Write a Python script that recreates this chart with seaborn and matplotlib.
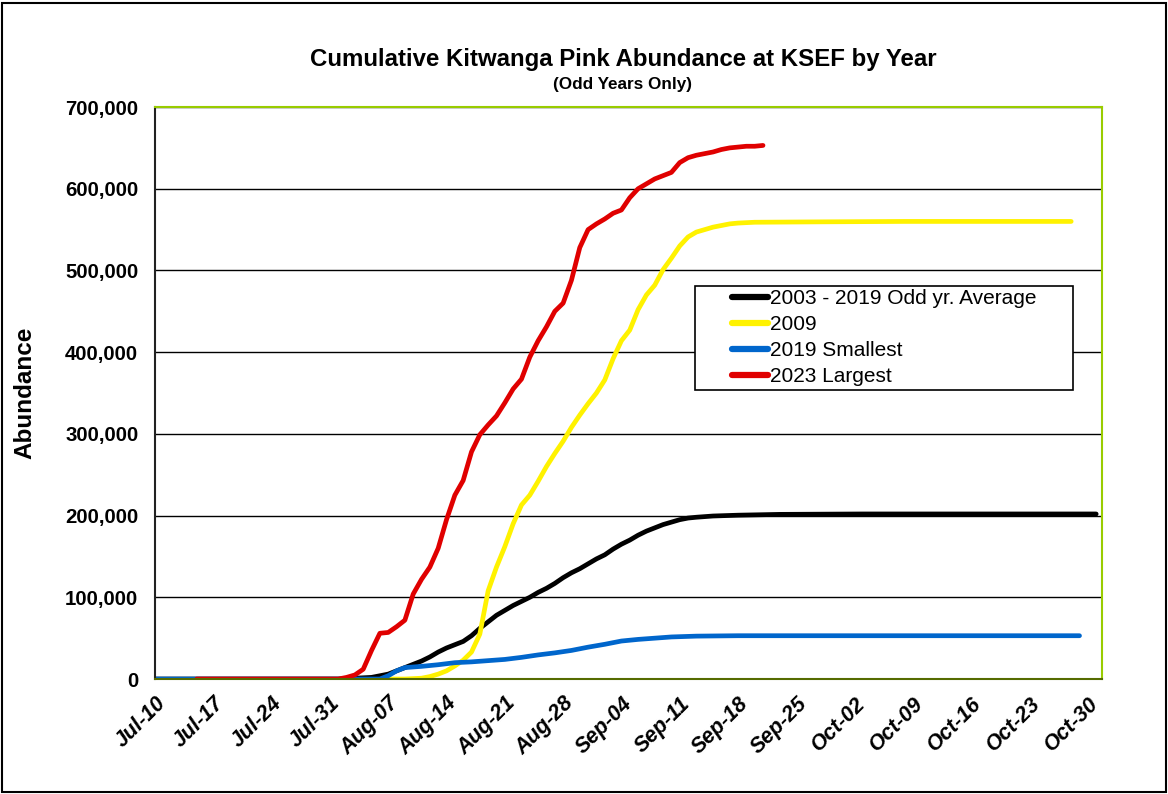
import pandas as pd
import numpy as np
import matplotlib.pyplot as plt
import matplotlib.dates as mdates
import matplotlib.ticker as mticker
from matplotlib.patches import Rectangle
from matplotlib.legend_handler import HandlerLine2D
import seaborn as sns

# the chart has month-day only; a dummy year is used to put them on a date axis
YEAR = 2023

# abundance values are in thousands of fish
avg_dates = ['Jul-10', 'Aug-01', 'Aug-03', 'Aug-05', 'Aug-07', 'Aug-09', 'Aug-11', 'Aug-12',
             'Aug-13', 'Aug-14', 'Aug-15', 'Aug-16', 'Aug-17', 'Aug-18', 'Aug-19', 'Aug-20',
             'Aug-21', 'Aug-22', 'Aug-23', 'Aug-24', 'Aug-25', 'Aug-26', 'Aug-27', 'Aug-28',
             'Aug-29', 'Aug-30', 'Aug-31', 'Sep-01', 'Sep-02', 'Sep-03', 'Sep-04', 'Sep-05',
             'Sep-06', 'Sep-07', 'Sep-08', 'Sep-09', 'Sep-10', 'Sep-11', 'Sep-12', 'Sep-13',
             'Sep-15', 'Sep-18', 'Sep-23', 'Oct-03', 'Oct-31']
avg_vals = [0, 0, 1, 2, 6, 14, 22, 27,
            33, 38, 42, 46, 53, 62, 70, 78,
            84, 90, 95, 100, 106, 111, 117, 124,
            130, 135, 141, 147, 152, 159, 165, 170,
            176, 181, 185, 189, 192, 195, 197, 198,
            199.5, 200.5, 201.5, 202, 202]

y2009_dates = ['Aug-07', 'Aug-09', 'Aug-11', 'Aug-12', 'Aug-13', 'Aug-14', 'Aug-15', 'Aug-16',
               'Aug-17', 'Aug-18', 'Aug-19', 'Aug-20', 'Aug-21', 'Aug-22', 'Aug-23', 'Aug-24',
               'Aug-25', 'Aug-26', 'Aug-27', 'Aug-28', 'Aug-29', 'Aug-30', 'Aug-31', 'Sep-01',
               'Sep-02', 'Sep-03', 'Sep-04', 'Sep-05', 'Sep-06', 'Sep-07', 'Sep-08', 'Sep-09',
               'Sep-10', 'Sep-11', 'Sep-12', 'Sep-13', 'Sep-14', 'Sep-15', 'Sep-16', 'Sep-17',
               'Sep-18', 'Sep-20', 'Sep-28', 'Oct-08', 'Oct-28']
y2009_vals = [0, 0, 1, 3, 6, 10, 16, 23,
              33, 55, 108, 137, 162, 190, 213, 225,
              242, 260, 276, 291, 308, 323, 337, 350,
              366, 392, 414, 427, 452, 470, 482, 501,
              515, 530, 541, 547, 550, 553, 555, 557,
              558, 559, 559.5, 560, 560]

y2019_dates = ['Jul-10', 'Aug-06', 'Aug-07', 'Aug-08', 'Aug-09', 'Aug-11', 'Aug-13', 'Aug-15',
               'Aug-17', 'Aug-19', 'Aug-21', 'Aug-23', 'Aug-25', 'Aug-27', 'Aug-29', 'Aug-31',
               'Sep-02', 'Sep-04', 'Sep-06', 'Sep-08', 'Sep-10', 'Sep-13', 'Sep-18', 'Oct-29']
y2019_vals = [0, 0, 4, 10, 14, 15.5, 17.5, 20,
              21, 22.5, 24, 26.5, 29.5, 32, 35, 39,
              42.5, 46.5, 48.5, 50, 51.5, 52.5, 53, 53]

y2023_dates = ['Jul-15', 'Aug-01', 'Aug-02', 'Aug-03', 'Aug-04', 'Aug-05', 'Aug-06', 'Aug-07',
               'Aug-08', 'Aug-09', 'Aug-10', 'Aug-11', 'Aug-12', 'Aug-13', 'Aug-14', 'Aug-15',
               'Aug-16', 'Aug-17', 'Aug-18', 'Aug-19', 'Aug-20', 'Aug-21', 'Aug-22', 'Aug-23',
               'Aug-24', 'Aug-25', 'Aug-26', 'Aug-27', 'Aug-28', 'Aug-29', 'Aug-30', 'Aug-31',
               'Sep-01', 'Sep-02', 'Sep-03', 'Sep-04', 'Sep-05', 'Sep-06', 'Sep-07', 'Sep-08',
               'Sep-09', 'Sep-10', 'Sep-11', 'Sep-12', 'Sep-13', 'Sep-14', 'Sep-15', 'Sep-16',
               'Sep-17', 'Sep-18', 'Sep-19', 'Sep-20', 'Sep-21']
y2023_vals = [0, 0, 2, 5, 12, 35, 56, 57,
              64, 72, 104, 122, 137, 160, 195, 225,
              243, 278, 299, 311, 322, 338, 355, 367,
              394, 414, 431, 450, 460, 488, 528, 550,
              557, 563, 570, 574, 589, 600, 606, 612,
              616, 620, 632, 638, 641, 643, 645, 648,
              650, 651, 652, 652, 653]

series_names = ['2003 - 2019 Odd yr. Average', '2009', '2019 Smallest', '2023 Largest']
series_colors = ['#000000', '#FFF200', '#0066CC', '#E00000']


def to_date(labels):
    return pd.to_datetime([f'{YEAR}-{s}' for s in labels], format='%Y-%b-%d')


frames = []
for name, dates, vals in zip(series_names,
                             [avg_dates, y2009_dates, y2019_dates, y2023_dates],
                             [avg_vals, y2009_vals, y2019_vals, y2023_vals]):
    frames.append(pd.DataFrame({'series': name, 'date': to_date(dates),
                                'abundance': np.array(vals) * 1000}))
df = pd.concat(frames, ignore_index=True)

sns.set_style('white')
plt.rcParams['font.family'] = ['Liberation Sans', 'DejaVu Sans']
plt.rcParams.update({'text.color': 'black', 'axes.labelcolor': 'black',
                     'xtick.color': 'black', 'ytick.color': 'black'})

fig = plt.figure(figsize=(11.68, 7.94), dpi=100)
ax = fig.add_axes([0.1327, 0.1448, 0.9435 - 0.1327, 0.8652 - 0.1448])

ax.yaxis.grid(True, color='black', linewidth=1.0)
ax.set_axisbelow(True)

sns.lineplot(data=df, x='date', y='abundance', hue='series', hue_order=series_names,
             palette=series_colors, linewidth=3.4, estimator=None, sort=False, ax=ax,
             solid_capstyle='round', solid_joinstyle='round')

start = pd.Timestamp(f'{YEAR}-07-10')
ax.set_xlim(start, start + pd.Timedelta(days=113.7))
ax.set_ylim(0, 700000)

ticks = pd.date_range(start, periods=17, freq='7D')
ax.set_xticks(mdates.date2num(ticks))
ax.xaxis.set_major_formatter(mdates.DateFormatter('%b-%d'))
ax.yaxis.set_major_locator(mticker.MultipleLocator(100000))
ax.yaxis.set_major_formatter(mticker.FuncFormatter(lambda v, p: f'{v:,.0f}'))

ax.tick_params(axis='x', direction='inout', length=12, width=1, color='#444444', pad=4)
ax.tick_params(axis='y', direction='out', length=6, width=1, color='black', pad=6)
for lbl in ax.get_xticklabels():
    lbl.set_fontsize(15.5)
    lbl.set_fontweight('bold')
    lbl.set_fontstyle('italic')
    lbl.set_rotation(45)
    lbl.set_ha('right')
    lbl.set_va('top')
    lbl.set_rotation_mode('anchor')
for lbl in ax.get_yticklabels():
    lbl.set_fontsize(14.7)
    lbl.set_fontweight('bold')

ax.set_xlabel('')
ax.set_ylabel('Abundance', fontsize=17.5, fontweight='bold', labelpad=21)

for side in ['top', 'right']:
    ax.spines[side].set_color('#99CC00')
    ax.spines[side].set_linewidth(1.5)
ax.spines['left'].set_color('#222222')
ax.spines['bottom'].set_color('#556B00')
ax.spines['left'].set_linewidth(1.5)
ax.spines['bottom'].set_linewidth(1.5)

fig.text(0.534, 0.925, 'Cumulative Kitwanga Pink Abundance at KSEF by Year',
         ha='center', va='center', fontsize=17.3, fontweight='bold')
fig.text(0.533, 0.894, '(Odd Years Only)', ha='center', va='center',
         fontsize=12.3, fontweight='bold')

# handle line drawn only in the right part of a wider handle box -> left padding
leg = ax.legend(loc='upper left', bbox_to_anchor=(0.5702, 0.687, 0.3992, 0.0),
                mode='expand', fontsize=15, frameon=True, fancybox=False,
                edgecolor='black', framealpha=1, handlelength=3.36,
                handletextpad=0.1, labelspacing=0.34, borderpad=0.15, borderaxespad=0,
                handler_map={plt.Line2D: HandlerLine2D(xpad=1.63)})
leg.get_frame().set_linewidth(1.2)
for line in leg.get_lines():
    line.set_linewidth(4.5)

fig.patches.append(Rectangle((0.002, 0.002), 0.996, 0.994, transform=fig.transFigure,
                             fill=False, edgecolor='black', linewidth=1.5))

fig.savefig('out.png', dpi=100)
